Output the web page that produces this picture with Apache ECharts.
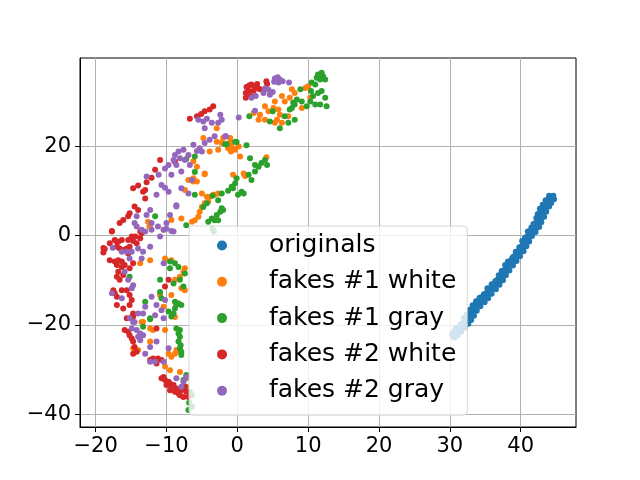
<!DOCTYPE html>
<html>
<head>
<meta charset="utf-8">
<script src="https://cdn.jsdelivr.net/npm/echarts@6/dist/echarts.min.js"></script>
<style>
  html, body { margin: 0; padding: 0; background: #fff; }
  #chart { width: 640px; height: 480px; }
</style>
</head>
<body>
<div id="chart"></div>
<script>
// series names, in draw order
const seriesNames = ['originals', 'fakes #1 white', 'fakes #1 gray', 'fakes #2 white', 'fakes #2 gray']
const seriesColors = ['#1f77b4', '#ff7f0e', '#2ca02c', '#d62728', '#9467bd']

// axis ranges / ticks
const xRange = [-22.2, 47.8]
const yRange = [-42.8, 39.7]
const xTicks = [-20, -10, 0, 10, 20, 30, 40]
const yTicks = [-40, -20, 0, 20]

// points, [x, y]
const originals = [
  [44.3, 8.7], [44.0, 8.9], [44.5, 8.4], [43.9, 8.0], [44.2, 7.7], [43.6, 7.3], [43.9, 7.0], [43.3, 6.6],
  [43.6, 6.2], [43.0, 5.9], [43.3, 5.5], [42.8, 5.1], [43.0, 4.7], [42.6, 4.3], [42.9, 3.9], [42.4, 3.6],
  [42.6, 3.2], [42.1, 2.8], [42.4, 2.4], [41.9, 2.1], [42.1, 1.6], [41.5, 1.3], [41.8, 0.9], [41.2, 0.6],
  [41.4, 0.1], [40.9, -0.2], [41.1, -0.6], [40.7, -1.0], [40.9, -1.4], [40.4, -1.7], [40.6, -2.1], [40.1, -2.5],
  [40.3, -2.9], [39.8, -3.2], [40.0, -3.6], [39.4, -4.0], [39.6, -4.3], [39.0, -4.7], [39.3, -5.1], [38.7, -5.5],
  [38.9, -5.8], [38.3, -6.2], [38.5, -6.6], [38.0, -7.0], [38.2, -7.3], [37.7, -7.7], [37.9, -8.1], [37.4, -8.4],
  [37.6, -8.8], [37.1, -9.2], [37.3, -9.6], [36.7, -9.9], [36.9, -10.3], [36.3, -10.7], [36.5, -11.0], [35.9, -11.4],
  [36.1, -11.8], [35.5, -12.2], [35.7, -12.5], [35.1, -12.9], [35.3, -13.3], [34.6, -13.7], [34.8, -14.0], [34.1, -14.4],
  [34.4, -14.8], [33.7, -15.2], [33.9, -15.5], [33.3, -15.9], [33.5, -16.3], [33.0, -16.7], [33.2, -17.0], [32.8, -17.4],
  [33.0, -17.8], [32.6, -18.1], [32.8, -18.5], [32.2, -18.9], [32.5, -19.2], [31.8, -19.6], [32.1, -20.0], [31.4, -20.4],
  [31.7, -20.7], [31.0, -21.1], [31.3, -21.5], [30.7, -21.9], [30.9, -22.2], [30.5, -22.6],
  [44.6, 8.9], [44.7, 8.1], [43.5, 7.9], [44.3, 7.3], [43.1, 6.9], [44.0, 6.5], [42.7, 6.0], [43.6, 5.3],
  [42.4, 4.8], [43.3, 4.2], [42.2, 3.9], [42.9, 3.0], [41.8, 2.6], [42.6, 1.9], [41.5, 1.8], [42.1, 0.8],
  [41.0, 0.9], [41.6, -0.1], [40.6, -0.5], [41.2, -1.3], [40.2, -1.2], [40.8, -2.4], [39.8, -2.6], [40.4, -3.5],
  [39.3, -3.6], [39.9, -4.6], [38.8, -5.0], [39.4, -5.7], [38.2, -5.8], [38.9, -6.7], [37.8, -6.6], [38.4, -7.8],
  [37.3, -7.9], [37.9, -8.9], [36.9, -8.9], [37.5, -10.0], [36.4, -10.2], [37.0, -11.0], [35.9, -10.9], [36.5, -12.0],
  [35.3, -11.8], [35.9, -13.0], [34.8, -13.1], [35.4, -14.0], [34.2, -13.9], [34.9, -14.9], [33.7, -14.7], [34.3, -15.8],
  [33.2, -15.6], [33.8, -16.8], [32.8, -16.6], [33.4, -17.9], [32.4, -17.7], [33.0, -18.9], [32.0, -18.4], [32.6, -19.7],
  [31.5, -19.9], [32.1, -20.6], [30.9, -20.6], [31.6, -21.5], [30.6, -21.4], [31.1, -22.3], [30.3, -22.1], [30.7, -22.8]
]
const fakes1White = [
  [7.7, 32.7], [8.1, 31.9], [7.4, 30.8], [6.3, 31.2], [6.7, 30.0], [5.3, 30.0], [5.1, 28.5], [5.8, 28.2],
  [6.0, 27.0], [4.4, 27.8], [3.9, 28.9], [3.2, 27.0], [2.3, 27.4], [3.0, 25.9], [5.6, 25.9], [5.3, 25.2],
  [6.3, 25.2], [7.2, 26.7], [9.6, 33.0], [10.0, 33.4], [9.1, 28.5], [10.3, 30.8], [3.9, 25.9], [-1.3, 20.3],
  [-0.8, 19.5], [-0.3, 19.2], [0.2, 19.9], [-1.0, 21.0], [0.4, 17.7], [-0.9, 18.8],
  [-2.9, 24.0], [-4.8, 21.8], [-2.9, 21.0], [-2.2, 20.7], [-2.0, 21.8], [-1.0, 21.8], [-0.8, 20.7], [-1.3, 19.5],
  [-0.6, 19.5], [-3.9, 18.8], [-6.2, 16.6], [-5.7, 15.4], [-4.6, 13.7], [-6.2, 12.1], [-7.4, 10.2], [-5.0, 9.4],
  [-4.3, 8.7], [-3.2, 9.1], [-0.6, 13.6], [-2.7, 19.2],
  [-4.6, 13.9], [-6.9, 12.4], [-6.2, 12.8], [-5.7, 12.1], [0.9, 13.9], [1.1, 13.3], [4.1, 17.5], [-7.9, 3.8],
  [-6.4, 3.1], [-6.0, 3.4], [-5.5, 4.2], [-5.3, 5.3], [-5.0, 6.4], [-4.6, 7.2], [-4.1, 7.6], [-3.9, 8.7],
  [-3.4, 9.1], [-2.7, 9.4],
  [-12.6, 3.1], [-12.3, 2.4], [-9.3, 3.5],
  [-12.4, 2.0], [-10.4, 1.3], [-12.3, -5.5], [-13.7, -6.2], [-10.2, -5.1], [-9.3, -5.5], [-8.8, -9.9], [-8.1, -9.2],
  [-7.6, -8.1], [-7.4, -7.3], [-7.9, -11.8], [-7.4, -12.2], [-10.9, -13.3], [-9.3, -13.3], [-10.4, -15.9], [-13.3, -19.3],
  [-8.8, -18.2],
  [-13.5, -19.3], [-12.3, -20.8], [-11.9, -21.1], [-10.2, -21.1], [-12.3, -23.7], [-14.7, -25.2], [-14.0, -25.6], [-9.7, -26.4],
  [-9.3, -27.1], [-8.8, -26.4], [-8.1, -26.0], [-8.6, -25.6], [-10.2, -29.3], [-9.5, -30.1], [-8.1, -30.5], [-7.2, -31.9],
  [-7.2, -33.8]
]
const fakes1Gray = [
  [11.4, 36.0], [11.9, 36.4], [12.1, 35.6], [11.7, 34.9], [11.2, 35.3], [12.4, 34.9], [10.5, 34.2], [11.0, 33.8],
  [10.4, 32.3], [10.7, 31.2], [11.4, 31.9], [11.9, 32.3], [12.4, 30.8], [12.6, 28.9], [11.7, 29.3], [11.0, 29.3],
  [10.3, 30.0], [9.8, 28.9], [9.1, 30.0], [8.9, 32.7], [8.1, 29.3], [7.7, 28.5], [7.9, 29.7], [8.4, 30.4],
  [7.4, 28.2], [6.7, 26.7], [8.1, 25.9], [7.2, 25.2], [6.0, 24.0], [4.6, 25.5], [5.0, 27.8], [1.7, 26.7],
  [-1.5, 20.4], [-0.1, 20.9], [1.3, 20.2], [1.8, 17.3], [2.5, 15.8], [3.4, 16.2], [3.9, 16.9], [3.0, 15.4],
  [4.2, 15.8],
  [-1.7, 20.4], [-0.3, 21.0], [-6.0, 17.7], [-7.2, 17.1], [-6.0, 14.2], [-6.0, 9.1], [-3.5, 8.9], [-2.2, 9.4],
  [-1.3, 10.0], [-0.8, 10.9], [-0.3, 11.7], [-0.1, 12.8],
  [2.5, 14.3], [1.6, 13.6], [2.0, 12.4], [0.6, 9.8], [0.9, 9.4], [0.1, 9.1], [-2.7, 7.9], [-4.3, 7.2],
  [-4.8, 6.4], [-2.2, 6.1], [-2.0, 5.7], [-2.4, 5.3], [-2.9, 4.6], [-3.2, 3.4], [-2.7, 3.4], [-4.1, 3.1],
  [-3.6, 3.8], [-7.2, 2.3], [-0.6, 10.6], [-3.5, 1.5], [-3.3, 0.9], [-11.6, 4.3],
  [-9.5, -5.8], [-8.8, -6.2], [-8.3, -7.0], [-7.4, -8.5], [-9.5, -7.3], [-15.2, -9.2], [-10.9, -9.9], [-9.0, -10.7],
  [-8.1, -9.9], [-7.6, -11.4], [-10.9, -12.6], [-10.7, -14.0], [-13.0, -14.8], [-8.8, -14.8], [-8.3, -15.2], [-8.6, -15.5],
  [-7.9, -15.5], [-8.8, -16.3], [-9.7, -17.0], [-12.3, -18.5], [-9.0, -17.4],
  [-12.3, -18.7], [-9.3, -18.1], [-8.6, -20.8], [-8.1, -21.1], [-8.3, -21.9], [-8.1, -22.6], [-8.3, -23.7], [-8.0, -24.5],
  [-8.1, -25.2], [-7.9, -26.0], [-7.9, -26.7], [-7.2, -31.2], [-7.6, -32.3], [-7.4, -33.8], [-6.7, -34.9], [-6.4, -35.7],
  [-13.3, -20.4], [-6.4, -38.3], [-6.9, -39.0], [-6.8, -37.4]
]
const fakes2White = [
  [1.3, 33.2], [1.7, 33.6], [2.0, 33.8], [2.4, 33.4], [2.8, 33.9], [3.0, 32.9], [2.3, 32.4], [1.6, 32.4],
  [1.2, 31.9], [1.2, 30.8], [1.9, 31.2], [4.1, 34.5], [4.2, 33.9], [3.2, 32.7],
  [-3.4, 28.9], [-3.9, 28.2], [-4.6, 27.8], [-5.1, 27.2], [-6.7, 26.1], [-5.7, 26.7], [-10.9, 16.9], [-11.6, 14.7],
  [-12.1, 12.9], [-12.8, 11.9], [-14.0, 11.2], [-14.7, 10.6], [-13.3, 9.8], [-8.8, 16.5], [-13.0, 8.3],
  [-13.0, 10.2], [-14.5, 6.5], [-14.0, 5.7], [-15.2, 5.0], [-15.4, 4.3], [-16.1, 3.5], [-16.6, 2.8], [-17.7, 0.9],
  [-17.0, -1.4], [-14.9, -0.2], [-13.7, 0.9], [-18.9, -2.8],
  [-17.7, 1.0], [-18.7, -3.0], [-18.9, -3.8], [-18.0, -1.7], [-17.3, -1.0], [-16.8, -1.4], [-16.3, -1.0], [-15.4, -1.0],
  [-14.7, -1.2], [-14.4, -0.2], [-13.7, -0.6], [-14.2, -1.7], [-13.5, 0.5], [-17.0, -2.5], [-16.6, -2.9], [-16.1, -3.2],
  [-15.6, -2.9], [-15.2, -2.5], [-15.4, -4.0], [-18.0, -5.5], [-17.3, -5.8], [-16.8, -5.5], [-16.3, -5.8], [-17.0, -6.6],
  [-16.3, -7.0], [-15.9, -6.6], [-15.2, -7.3], [-14.7, -6.2], [-17.0, -9.2], [-16.6, -9.9], [-16.1, -8.8], [-16.8, -8.1],
  [-17.5, -12.2], [-17.3, -12.9], [-17.0, -13.7], [-16.3, -12.2], [-15.6, -12.2], [-15.2, -13.3], [-14.9, -14.4], [-17.0, -15.5],
  [-16.1, -16.3], [-15.2, -15.5], [-14.7, -17.4], [-14.9, -18.2], [-9.7, -9.9], [-10.2, -11.4],
  [-15.6, -18.5], [-14.7, -18.1], [-15.9, -21.1], [-15.4, -21.5], [-15.2, -22.3], [-14.9, -23.0], [-14.7, -23.7], [-14.5, -24.9],
  [-14.7, -26.4], [-14.2, -26.0], [-12.3, -27.8], [-11.9, -27.5], [-11.2, -27.5], [-10.7, -27.8], [-11.4, -28.6], [-10.4, -31.6],
  [-10.7, -31.9], [-10.2, -32.3], [-9.7, -32.7], [-10.0, -33.4], [-9.5, -33.1], [-9.3, -33.8], [-9.0, -33.4], [-8.6, -34.2],
  [-8.8, -34.9], [-8.3, -35.3], [-8.1, -35.7], [-7.6, -36.1], [-7.9, -34.6], [-7.4, -33.8], [-7.2, -34.9], [-6.9, -36.1],
  [-9.5, -34.6], [-11.4, -20.8]
]
const fakes2Gray = [
  [5.3, 35.1], [5.7, 35.4], [6.0, 34.9], [6.4, 34.5], [5.8, 34.2], [5.2, 34.4], [7.3, 34.2], [3.9, 32.9],
  [4.4, 32.6], [3.7, 31.9], [4.6, 31.5], [5.0, 32.1], [2.6, 31.2], [2.0, 30.8], [2.5, 27.9], [0.2, 26.4],
  [-1.6, 22.2],
  [-5.5, 25.9], [-4.8, 25.5], [-4.3, 26.1], [-3.6, 25.2], [-4.6, 24.0], [-2.4, 27.0], [-2.2, 25.9], [-2.7, 25.2],
  [-3.2, 22.2], [-3.9, 21.4], [-4.6, 20.7], [-6.2, 20.3], [-5.3, 19.5], [-1.7, 22.2], [-8.3, 18.8], [-7.6, 19.2],
  [-8.8, 18.0], [-8.1, 17.3], [-7.4, 16.9], [-6.9, 18.0], [-9.0, 16.9], [-9.7, 15.8], [-8.6, 15.8], [-10.2, 15.0],
  [-6.7, 15.8], [-7.9, 14.3], [-11.1, 13.6], [-9.3, 13.6], [-12.8, 13.2], [-10.7, 11.3], [-10.2, 10.7], [-9.7, 9.8],
  [-11.4, 9.1], [-7.9, 10.6], [-6.9, 9.4], [-6.4, 12.4], [-5.7, 18.9], [-5.0, 18.8], [-8.6, 6.8],
  [-12.3, 5.7], [-12.8, 4.6], [-14.2, 4.3], [-14.5, 2.8], [-12.1, 2.8], [-11.2, 2.0], [-9.5, 4.6], [-10.0, 2.8],
  [-10.4, 1.3], [-9.0, 0.9], [-8.6, 6.5],
  [-14.2, 2.0], [-13.5, 1.3], [-13.0, 0.9], [-12.1, 1.3], [-10.9, -0.2], [-10.0, 1.5], [-9.3, 1.0], [-17.6, -2.7],
  [-16.3, -3.6], [-15.6, -3.6], [-14.9, -3.6], [-14.0, -2.9], [-13.3, -3.6], [-12.3, -2.5], [-13.5, -5.1], [-15.2, -5.1],
  [-15.9, -8.1], [-15.4, -9.9], [-14.7, -11.1], [-14.9, -11.8], [-17.7, -12.9], [-16.3, -14.0], [-12.1, -13.7], [-11.4, -15.5],
  [-13.0, -15.9], [-14.0, -17.4], [-13.3, -17.4], [-14.7, -19.3], [-10.7, -16.7], [-11.6, -17.8], [-10.4, -6.2], [-10.2, -14.4],
  [-15.2, -18.5], [-14.5, -19.3], [-14.9, -20.8], [-14.2, -21.1], [-13.7, -21.9], [-14.0, -22.6], [-13.3, -22.3], [-13.7, -23.4],
  [-12.3, -24.9], [-13.0, -26.4], [-11.4, -23.7], [-9.7, -25.2], [-12.3, -28.2], [-11.6, -28.2], [-10.4, -28.2], [-8.6, -31.9],
  [-7.6, -32.7], [-7.2, -31.6], [-7.9, -33.8], [-10.4, -18.5]
]
const seriesData = [originals, fakes1White, fakes1Gray, fakes2White, fakes2Gray]

const FONT = 'DejaVu Sans'
const minusSign = v => String(v).replace('-', '\u2212')

const axisCommon = {
  type: 'value',
  axisLine: { show: true, onZero: false, lineStyle: { color: '#000', width: 1 } },
  splitLine: { show: true, lineStyle: { color: '#b0b0b0', width: 1 } },
}
const axisTick = ticks => ({ show: true, inside: false, length: 5, customValues: ticks, lineStyle: { color: '#000', width: 1 } })
const axisLabel = ticks => ({ color: '#000', fontSize: 21, fontFamily: FONT, margin: 9, customValues: ticks, formatter: minusSign })

const chart = echarts.init(document.getElementById('chart'), null, { renderer: 'canvas' })
chart.setOption({
  animation: false,
  backgroundColor: '#fff',
  textStyle: { fontFamily: FONT },
  grid: { left: 80, right: 64, top: 58, bottom: 53, show: true, borderColor: '#000', borderWidth: 1, backgroundColor: 'transparent' },
  xAxis: { ...axisCommon, min: xRange[0], max: xRange[1], axisTick: axisTick(xTicks), axisLabel: axisLabel(xTicks) },
  yAxis: { ...axisCommon, min: yRange[0], max: yRange[1], axisTick: axisTick(yTicks), axisLabel: axisLabel(yTicks) },
  legend: {
    orient: 'vertical',
    left: 189,
    top: 226,
    padding: [7, 11, 12, 28],
    itemGap: 11.3,
    itemWidth: 14,
    itemHeight: 10,
    icon: 'circle',
    selectedMode: false,
    backgroundColor: 'rgba(255,255,255,0.8)',
    borderColor: 'rgba(204,204,204,0.8)',
    borderWidth: 1,
    borderRadius: 4,
    textStyle: { color: '#000', fontSize: 25, fontFamily: FONT, padding: [0, 0, 0, 35] },
    data: seriesNames,
  },
  series: seriesNames.map((name, i) => ({
    name,
    type: 'scatter',
    symbol: 'circle',
    symbolSize: 6,
    data: seriesData[i],
    itemStyle: { color: seriesColors[i], opacity: 1 },
    emphasis: { disabled: true },
  })),
})
</script>
</body>
</html>
